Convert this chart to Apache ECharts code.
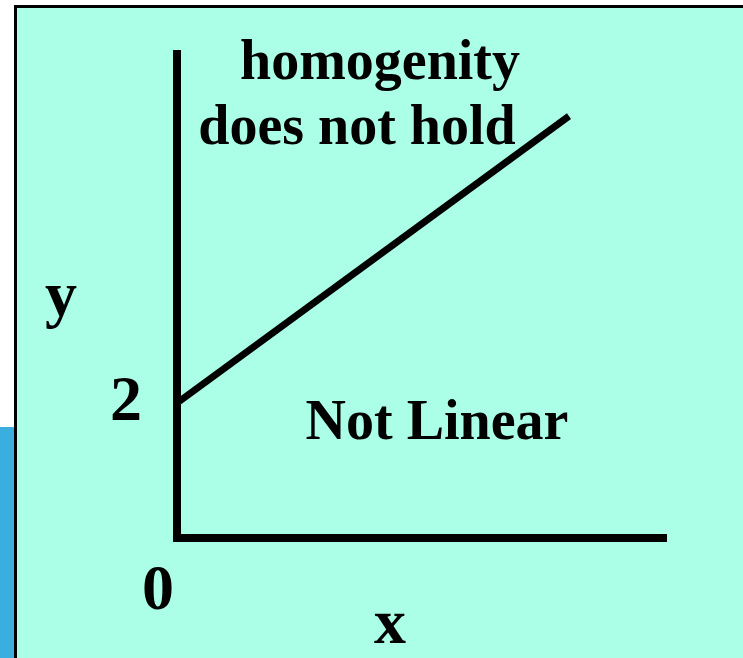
<!DOCTYPE html>
<html>
<head>
<meta charset="utf-8">
<script src="https://cdn.jsdelivr.net/npm/echarts@6/dist/echarts.min.js"></script>
<style>
  html, body { margin: 0; padding: 0; background: #ffffff; }
  #main { width: 743px; height: 658px; }
</style>
</head>
<body>
<div id="main"></div>
<script>
// line: starts at y=2 on the y axis and rises to the right
var lineX = [0, 8];
var lineY = [2, 6.25];
var yTicks = [2];
var xTicks = [0];

var font = 'Liberation Serif';
var myChart = echarts.init(document.getElementById('main'));

var data = [];
for (var i = 0; i < lineX.length; i++) {
    data.push([lineX[i], lineY[i]]);
}

function txt(text, x, y, size) {
    return {
        type: 'text',
        x: x,
        y: y,
        z: 100,
        silent: true,
        style: {
            text: text,
            fill: '#000000',
            font: 'bold ' + size + 'px "' + font + '"',
            align: 'center',
            verticalAlign: 'middle'
        }
    };
}

var option = {
    backgroundColor: '#ffffff',
    animation: false,
    grid: { left: 177, right: 76, top: 54, bottom: 120 },
    xAxis: {
        type: 'value',
        min: 0,
        max: 10,
        splitLine: { show: false },
        axisTick: { show: false },
        axisLabel: { show: false },
        axisLine: { lineStyle: { color: '#000000', width: 8, cap: 'butt' } }
    },
    yAxis: {
        type: 'value',
        min: 0,
        max: 7.17,
        splitLine: { show: false },
        axisTick: { show: false },
        axisLine: { lineStyle: { color: '#000000', width: 8, cap: 'square' } },
        axisLabel: {
            customValues: yTicks,
            margin: 35,
            color: '#000000',
            fontFamily: font,
            fontWeight: 'bold',
            fontSize: 64,
            padding: [0, 0, 20, 0]
        }
    },
    series: [{
        type: 'line',
        data: data,
        symbol: 'none',
        lineStyle: { color: '#000000', width: 7, cap: 'butt' }
    }],
    graphic: [
        {
            type: 'rect',
            z: -10,
            silent: true,
            shape: { x: 15.5, y: 6.5, width: 740, height: 660 },
            style: { fill: '#aaffe6', stroke: '#000000', lineWidth: 3 }
        },
        {
            type: 'rect',
            z: -10,
            silent: true,
            shape: { x: 0, y: 427, width: 14, height: 240 },
            style: { fill: '#3aaedf' }
        },
        txt('homogenity', 380, 65, 56),
        txt('does not hold', 357, 130, 56),
        txt('Not Linear', 437, 425, 56),
        txt('y', 61, 298, 64),
        txt(String(xTicks[0]), 158, 592, 64),
        txt('x', 390, 626, 64)
    ]
};

myChart.setOption(option);
</script>
</body>
</html>
